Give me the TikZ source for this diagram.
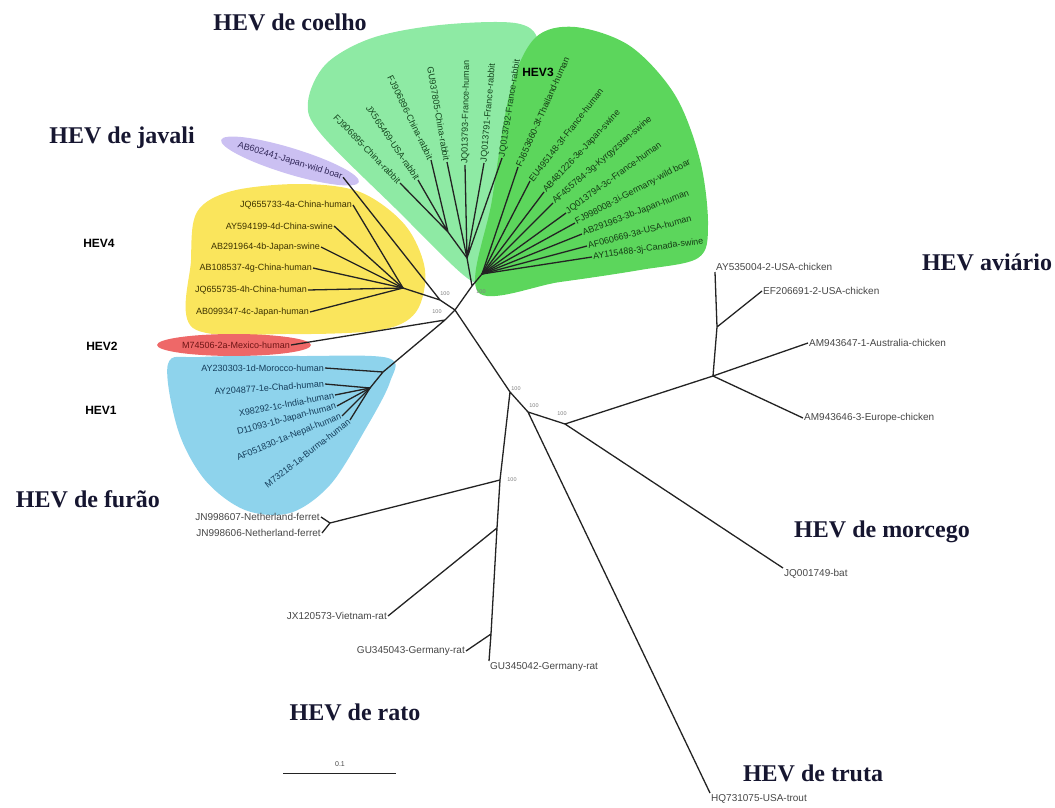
\documentclass[tikz,border=0pt]{standalone}
\usepackage{fontspec}
\setmainfont{Liberation Serif}
\setsansfont{Liberation Sans}
\usepackage{tikz}

\definecolor{rabbitfill}{RGB}{142,234,164}
\definecolor{hevthreefill}{RGB}{92,214,92}
\definecolor{boarfill}{RGB}{203,192,242}
\definecolor{hevfourfill}{RGB}{250,229,92}
\definecolor{hevtwofill}{RGB}{238,104,104}
\definecolor{hevonefill}{RGB}{142,211,236}
\definecolor{branchcol}{RGB}{35,35,35}
\definecolor{titlecol}{RGB}{22,22,48}
\definecolor{leafcol}{RGB}{70,70,70}
\definecolor{rabbittxt}{RGB}{20,70,30}
\definecolor{hevthreetxt}{RGB}{20,60,20}
\definecolor{hevfourtxt}{RGB}{60,50,0}
\definecolor{hevtwotxt}{RGB}{110,20,20}
\definecolor{hevonetxt}{RGB}{20,60,90}
\definecolor{boartxt}{RGB}{50,40,90}

\begin{document}
\begin{tikzpicture}[
    x=1pt, y=-1pt,
    branch/.style={draw=branchcol, line width=1.3pt},
    leaf/.style={font=\sffamily\fontsize{10}{10}\selectfont, inner sep=1pt, text=leafcol},
    cleaf/.style={leaf, font=\sffamily\fontsize{9}{9}\selectfont},
    rleaf/.style={cleaf, text=rabbittxt},
    gleaf/.style={cleaf, text=hevthreetxt, anchor=west},
    yleaf/.style={cleaf, text=hevfourtxt, anchor=east},
    bleaf/.style={cleaf, text=hevonetxt, anchor=east},
    boot/.style={font=\sffamily\fontsize{5.5}{5.5}\selectfont, text=gray, inner sep=0pt},
    grp/.style={font=\fontsize{24}{24}\selectfont\bfseries, text=titlecol},
    hevlbl/.style={font=\sffamily\fontsize{12}{12}\selectfont\bfseries, text=black}
]
\useasboundingbox (0,0) rectangle (1055,808);

% Clade shading
\fill[rabbitfill] plot[smooth cycle, tension=0.55] coordinates {(470,280) (395,208) (321,134) (308,102) (326,64) (372,38) (440,25) (515,23) (538,40) (532,82) (506,160) (482,262)};
\fill[hevthreefill] plot[smooth cycle, tension=0.55] coordinates {(478,292) (492,200) (510,92) (535,38) (575,27) (630,46) (675,95) (700,160) (708,225) (698,258) (640,270) (560,282)};
\fill[boarfill, rotate around={-17:(290,161)}] (290,161) ellipse (72pt and 13pt);
\fill[hevfourfill] plot[smooth cycle, tension=0.55] coordinates {(193,328) (191,260) (197,212) (232,191) (300,184) (360,192) (405,225) (425,270) (416,312) (380,330) (290,334)};
\fill[hevtwofill] (234,345) ellipse (77pt and 11pt);
\fill[hevonefill] plot[smooth cycle, tension=0.55] coordinates {(168,364) (200,357) (300,356) (388,358) (390,382) (365,430) (330,485) (290,513) (245,510) (205,480) (178,430)};

% Internal nodes
\coordinate (nc) at (455,310);
\coordinate (j1) at (440,300);
\coordinate (j2) at (445,320);
\coordinate (nrh) at (472,286);
\coordinate (r0) at (467,258);
\coordinate (r1) at (448,232);
\coordinate (h0) at (482,274);
\coordinate (y0) at (403,288);
\coordinate (b1) at (383,372);
\coordinate (b2) at (370,388);
\coordinate (nd) at (510,392);
\coordinate (ne) at (528,412);
\coordinate (nf) at (565,424);
\coordinate (a0) at (713,376);
\coordinate (a1) at (717,327);
\coordinate (f0) at (500,480);
\coordinate (ff) at (330,523);
\coordinate (ra) at (497,528);
\coordinate (rb) at (491,634);

% Rabbit leaves
\node[rleaf, anchor=east, rotate=-46] (rb1) at (400,183) {FJ906895-China-rabbit};
\node[rleaf, anchor=east, rotate=-56] (rb2) at (418,180) {JX565469-USA-rabbit};
\node[rleaf, anchor=east, rotate=-64] (rb3) at (431,160) {FJ906896-China-rabbit};
\node[rleaf, anchor=east, rotate=-80] (rb4) at (447,162) {GU937805-China-rabbit};
\node[rleaf, anchor=west, rotate=89] (rb5) at (465,165) {JQ013793-France-human};
\node[rleaf, anchor=west, rotate=85] (rb6) at (484,163) {JQ013791-France-rabbit};
\node[rleaf, anchor=west, rotate=81] (rb7) at (502,158) {JQ013792-France-rabbit};

% HEV3 leaves
\node[gleaf, rotate=66] (g1) at (518,167) {FJ653660-3f-Thailand-human};
\node[gleaf, rotate=52] (g2) at (530,181) {EU495148-3f-France-human};
\node[gleaf, rotate=47] (g3) at (544,192) {AB481226-3e-Japan-swine};
\node[gleaf, rotate=41] (g4) at (553,203) {AF455784-3g-Kyrgyzstan-swine};
\node[gleaf, rotate=36] (g5) at (566,213) {JQ013794-3c-France-human};
\node[gleaf, rotate=28] (g6) at (575,223) {FJ998008-3i-Germany-wild boar};
\node[gleaf, rotate=21] (g7) at (582,234) {AB291963-3b-Japan-human};
\node[gleaf, rotate=15] (g8) at (587,246) {AF060669-3a-USA-human};
\node[gleaf, rotate=8] (g9) at (592,257) {AY115488-3j-Canada-swine};

% Wild boar, HEV4, HEV2, HEV1 leaves
\node[cleaf, text=boartxt, rotate=-17] (boar) at (290,161) {AB602441-Japan-wild boar};
\node[yleaf] (y1) at (353,205) {JQ655733-4a-China-human};
\node[yleaf] (y2) at (334,226) {AY594199-4d-China-swine};
\node[yleaf] (y3) at (321,247) {AB291964-4b-Japan-swine};
\node[yleaf] (y4) at (313,268) {AB108537-4g-China-human};
\node[yleaf] (y5) at (308,290) {JQ655735-4h-China-human};
\node[yleaf] (y6) at (310,312) {AB099347-4c-Japan-human};
\node[cleaf, text=hevtwotxt] (m74) at (236,345) {M74506-2a-Mexico-human};
\node[bleaf] (e1) at (325,368) {AY230303-1d-Morocco-human};
\node[bleaf, rotate=4] (e2) at (325,384) {AY204877-1e-Chad-human};
\node[bleaf, rotate=11] (e3) at (335,395) {X98292-1c-India-human};
\node[bleaf, rotate=15] (e4) at (337,406) {D11093-1b-Japan-human};
\node[bleaf, rotate=22] (e5) at (342,416) {AF051830-1a-Nepal-human};
\node[bleaf, rotate=38] (e6) at (350,420) {M73218-1a-Burma-human};

% Avian, bat, trout, ferret, rat leaves
\node[leaf, anchor=south west] (c1) at (715,272) {AY535004-2-USA-chicken};
\node[leaf, anchor=west] (c2) at (762,291) {EF206691-2-USA-chicken};
\node[leaf, anchor=west] (c3) at (808,343) {AM943647-1-Australia-chicken};
\node[leaf, anchor=west] (c4) at (803,418) {AM943646-3-Europe-chicken};
\node[leaf, anchor=north west] (bat) at (783,568) {JQ001749-bat};
\node[leaf, anchor=north west] (trout) at (710,793) {HQ731075-USA-trout};
\node[leaf, anchor=east] (fer1) at (321,517) {JN998607-Netherland-ferret};
\node[leaf, anchor=east] (fer2) at (322,533) {JN998606-Netherland-ferret};
\node[leaf, anchor=east] (rat1) at (388,616) {JX120573-Vietnam-rat};
\node[leaf, anchor=east] (rat2) at (466,651) {GU345043-Germany-rat};
\node[leaf, anchor=north west] (rat3) at (489,661) {GU345042-Germany-rat};

% Branches
\draw[branch] (nc) -- (j1) (nc) -- (j2) (nc) -- (nrh) (nc) -- (nd);
\draw[branch] (j1) -- (y0) (j1) -- (boar.east);
\draw[branch] (nrh) -- (r0) (nrh) -- (h0);
\draw[branch] (r0) -- (r1) (r1) -- (rb1.east) (r1) -- (rb2.east) (r1) -- (rb3.east);
\draw[branch] (r0) -- (rb4.east) (r0) -- (rb5.west) (r0) -- (rb6.west) (r0) -- (rb7.west);
\foreach \g in {g1,g2,g3,g4,g5,g6,g7,g8,g9}
    \draw[branch] (h0) -- (\g.west);
\foreach \y in {y1,y2,y3,y4,y5,y6}
    \draw[branch] (y0) -- (\y.east);
\draw[branch] (j2) -- (m74.east) (j2) -- (b1);
\draw[branch] (b1) -- (e1.east) (b1) -- (b2);
\foreach \e in {e2,e3,e4,e5,e6}
    \draw[branch] (b2) -- (\e.east);
\draw[branch] (nd) -- (ne) (nd) -- (f0);
\draw[branch] (ne) -- (nf) (ne) -- (trout.north west);
\draw[branch] (nf) -- (a0) (nf) -- (bat.north west);
\draw[branch] (a0) -- (a1) (a1) -- (c1.south west) (a1) -- (c2.west);
\draw[branch] (a0) -- (c3.west) (a0) -- (c4.west);
\draw[branch] (f0) -- (ff) (ff) -- (fer1.east) (ff) -- (fer2.east);
\draw[branch] (f0) -- (ra) (ra) -- (rat1.east) (ra) -- (rb);
\draw[branch] (rb) -- (rat2.east) (rb) -- (rat3.north west);

% Bootstrap values
\node[boot] (bs1) at (445,294) {100};
\node[boot] (bs2) at (437,312) {100};
\node[boot] (bs3) at (481,292) {100};
\node[boot] (bs4) at (516,389) {100};
\node[boot] (bs5) at (534,406) {100};
\node[boot] (bs6) at (562,414) {100};
\node[boot] (bs7) at (512,480) {100};

% Group labels
\node[grp] (gcoelho) at (290,22) {HEV de coelho};
\node[grp] (gjavali) at (122,138) {HEV de javali};
\node[grp] (gaviario) at (987,262) {HEV aviário};
\node[grp] (gfurao) at (88,499) {HEV de furão};
\node[grp] (gmorcego) at (882,532) {HEV de morcego};
\node[grp] (grato) at (355,712) {HEV de rato};
\node[grp] (gtruta) at (813,773) {HEV de truta};
\node[hevlbl] (ghev3) at (538,72) {HEV3};
\node[hevlbl] (ghev4) at (99,243) {HEV4};
\node[hevlbl] (ghev2) at (102,346) {HEV2};
\node[hevlbl] (ghev1) at (101,410) {HEV1};

% Scale bar
\coordinate (sbl) at (283,773);
\coordinate (sbr) at (396,773);
\draw[branch, line width=1pt] (sbl) -- (sbr);
\node[boot, font=\sffamily\fontsize{7}{7}\selectfont, text=leafcol] (sblbl) at (340,764) {0.1};

\end{tikzpicture}
\end{document}
